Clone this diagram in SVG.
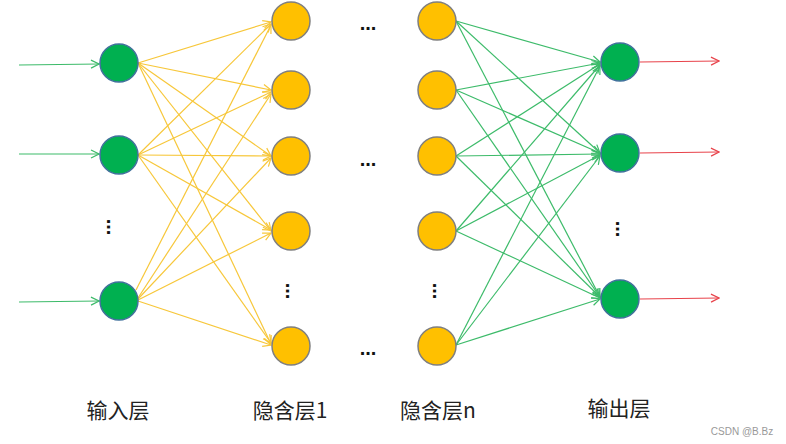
<svg xmlns="http://www.w3.org/2000/svg" width="786" height="444" viewBox="0 0 786 444">
<style>
.y{stroke:#F7C73A;stroke-width:1.2;fill:none;marker-end:url(#ay)}
.g{stroke:#3DBB6A;stroke-width:1.2;fill:none;marker-end:url(#ag)}
.r{stroke:#E8434B;stroke-width:1.2;fill:none;marker-end:url(#ar)}
.gn{fill:#00B050;stroke:#41719C;stroke-width:1.5}
.yn{fill:#FFC000;stroke:#7F7F7F;stroke-width:1.5}
.t{font-family:"Noto Sans CJK SC","Liberation Sans",sans-serif;font-size:21px;fill:#222;text-anchor:middle}
.d{font-family:"Liberation Sans",sans-serif;font-size:20px;font-weight:bold;fill:#111;text-anchor:middle}
</style>
<defs>
<marker id="ay" markerWidth="10" markerHeight="10" refX="9" refY="5" orient="auto" markerUnits="userSpaceOnUse"><path d="M1,1 L9,5 L1,9" fill="none" stroke="#F7C73A" stroke-width="1.2"/></marker>
<marker id="ag" markerWidth="10" markerHeight="10" refX="9" refY="5" orient="auto" markerUnits="userSpaceOnUse"><path d="M1,1 L9,5 L1,9" fill="none" stroke="#3DBB6A" stroke-width="1.2"/></marker>
<marker id="ar" markerWidth="10" markerHeight="10" refX="9" refY="5" orient="auto" markerUnits="userSpaceOnUse"><path d="M1,1 L9,5 L1,9" fill="none" stroke="#E8434B" stroke-width="1.2"/></marker>
</defs>
<g id="connectors">
<line class="g" x1="19" y1="65" x2="99" y2="64"/>
<line class="g" x1="19" y1="154" x2="99" y2="154"/>
<line class="g" x1="19" y1="302" x2="99" y2="301"/>
<line class="y" x1="138" y1="63" x2="271" y2="22"/>
<line class="y" x1="138" y1="63" x2="271" y2="90"/>
<line class="y" x1="138" y1="63" x2="271" y2="156"/>
<line class="y" x1="138" y1="63" x2="271" y2="231"/>
<line class="y" x1="138" y1="63" x2="271" y2="344"/>
<line class="y" x1="138" y1="155" x2="271" y2="24"/>
<line class="y" x1="138" y1="155" x2="271" y2="92"/>
<line class="y" x1="138" y1="155" x2="271" y2="156"/>
<line class="y" x1="138" y1="155" x2="271" y2="230"/>
<line class="y" x1="138" y1="155" x2="271" y2="343"/>
<line class="y" x1="136" y1="290" x2="271" y2="25"/>
<line class="y" x1="138" y1="298" x2="271" y2="94"/>
<line class="y" x1="138" y1="299" x2="271" y2="158"/>
<line class="y" x1="138" y1="300" x2="271" y2="233"/>
<line class="y" x1="138" y1="301" x2="271" y2="345"/>
<line class="g" x1="456" y1="21" x2="600" y2="62"/>
<line class="g" x1="456" y1="21" x2="600" y2="153"/>
<line class="g" x1="456" y1="21" x2="600" y2="297"/>
<line class="g" x1="456" y1="90" x2="600" y2="63"/>
<line class="g" x1="456" y1="90" x2="600" y2="153"/>
<line class="g" x1="456" y1="90" x2="600" y2="297"/>
<line class="g" x1="456" y1="156" x2="600" y2="64"/>
<line class="g" x1="456" y1="156" x2="600" y2="154"/>
<line class="g" x1="456" y1="156" x2="600" y2="297"/>
<line class="g" x1="456" y1="231" x2="600" y2="65"/>
<line class="g" x1="456" y1="231" x2="600" y2="155"/>
<line class="g" x1="456" y1="231" x2="600" y2="298"/>
<line class="g" x1="456" y1="345" x2="600" y2="66"/>
<line class="g" x1="456" y1="345" x2="600" y2="156"/>
<line class="g" x1="456" y1="345" x2="600" y2="299"/>
<line class="r" x1="640" y1="62" x2="719" y2="61"/>
<line class="r" x1="640" y1="153" x2="719" y2="152"/>
<line class="r" x1="640" y1="299" x2="719" y2="298"/>
</g>
<g id="input">
<circle class="gn" cx="119" cy="63" r="19"/><circle class="gn" cx="119" cy="155" r="19"/><circle class="gn" cx="119" cy="301" r="19"/>
<text class="d" x="113" y="233" transform="rotate(90 113 227)">...</text>
</g>
<g id="hidden1">
<circle class="yn" cx="291" cy="21" r="19"/><circle class="yn" cx="291" cy="90" r="19"/><circle class="yn" cx="291" cy="156" r="19"/><circle class="yn" cx="291" cy="231" r="19"/><circle class="yn" cx="291" cy="346" r="19"/>
<text class="d" x="292" y="297" transform="rotate(90 292 291)">...</text>
</g>
<g id="dots-mid">
<text class="d" x="368" y="30">...</text><text class="d" x="368" y="166">...</text><text class="d" x="368" y="355">...</text>
</g>
<g id="hiddenN">
<circle class="yn" cx="437" cy="21" r="19"/><circle class="yn" cx="437" cy="90" r="19"/><circle class="yn" cx="437" cy="156" r="19"/><circle class="yn" cx="437" cy="231" r="19"/><circle class="yn" cx="437" cy="346" r="19"/>
<text class="d" x="439" y="297" transform="rotate(90 439 291)">...</text>
</g>
<g id="output">
<circle class="gn" cx="620" cy="62" r="19"/><circle class="gn" cx="620" cy="153" r="19"/><circle class="gn" cx="620" cy="299" r="19"/>
<text class="d" x="622" y="235" transform="rotate(90 622 229)">...</text>
</g>
<g id="labels">
<text class="t" x="118" y="418">输入层</text>
<text class="t" x="290" y="418">隐含层1</text>
<text class="t" x="438" y="418">隐含层n</text>
<text class="t" x="619" y="416">输出层</text>
<text x="742" y="435" font-family="Liberation Sans,sans-serif" font-size="10" fill="#999" text-anchor="middle">CSDN @B.Bz</text>
</g>
</svg>
